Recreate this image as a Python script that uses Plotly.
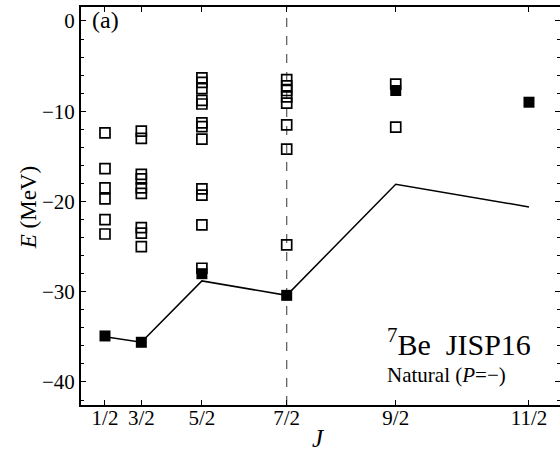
import plotly.graph_objects as go

# J values (numeric) and tick labels
J_vals = [0.5, 1.5, 2.5, 3.5, 4.5, 5.5]
J_labels = ["1/2", "3/2", "5/2", "7/2", "9/2", "11/2"]

# Open squares: excited states per J (MeV)
open_J12 = [-12.4, -16.35, -18.5, -19.7, -22.0, -23.6]
open_J32 = [-12.2, -13.0, -17.0, -17.5, -18.5, -19.1, -22.9, -23.5, -25.0]
open_J52 = [-6.3, -6.8, -7.5, -8.8, -9.2, -11.3, -11.7, -13.1, -18.6, -19.3, -22.6, -27.4]
open_J72 = [-6.5, -7.2, -7.7, -8.4, -9.1, -11.5, -14.2, -24.8]
open_J92 = [-7.0, -11.75]
open_J112 = []

# Filled squares (lowest states) per J
filled_E = [-34.9, -35.6, -28.0, -30.4, -7.7, -9.0]

# Solid line values per J
line_E = [-35.0, -35.6, -28.8, -30.4, -18.1, -20.6]

open_sets = [open_J12, open_J32, open_J52, open_J72, open_J92, open_J112]

def jx(j):
    return j * (j + 1)

xpos = [jx(j) for j in J_vals]

open_x, open_y = [], []
for j, vals in zip(J_vals, open_sets):
    for v in vals:
        open_x.append(jx(j))
        open_y.append(v)

FONT = "Liberation Serif"

fig = go.Figure()

fig.add_shape(type="line", x0=jx(3.5), x1=jx(3.5), y0=0, y1=1, xref="x", yref="paper",
              line=dict(color="#555555", width=1.2, dash="dash"), layer="below")

fig.add_trace(go.Scatter(x=xpos, y=line_E, mode="lines",
                         line=dict(color="black", width=1.5), showlegend=False,
                         cliponaxis=False))
fig.add_trace(go.Scatter(x=open_x, y=open_y, mode="markers",
                         marker=dict(symbol="square-open", size=10, color="black",
                                     line=dict(width=1.7, color="black")),
                         showlegend=False))
fig.add_trace(go.Scatter(x=xpos, y=filled_E, mode="markers",
                         marker=dict(symbol="square", size=11, color="black"),
                         showlegend=False))

fig.add_annotation(text="(a)", x=0.018, y=1.006, xref="paper", yref="paper",
                   xanchor="left", yanchor="top", showarrow=False,
                   font=dict(family=FONT, size=24, color="black"))
fig.add_annotation(text="<sup>7</sup>Be\u00a0\u00a0JISP16", x=0.635, y=0.158, xref="paper", yref="paper",
                   xanchor="left", yanchor="middle", showarrow=False,
                   font=dict(family=FONT, size=30, color="black"))
fig.add_annotation(text="Natural (<i>P</i>=\u2212)", x=0.635, y=0.075, xref="paper", yref="paper",
                   xanchor="left", yanchor="middle", showarrow=False,
                   font=dict(family=FONT, size=21, color="black"))
# axis titles
fig.add_annotation(text="<i>J</i>", x=0.495, y=-0.083, xref="paper", yref="paper",
                   xanchor="center", yanchor="middle", showarrow=False,
                   font=dict(family=FONT, size=25, color="black"))
fig.add_annotation(text="<i>E</i> (MeV)", x=-0.108, y=0.495, xref="paper", yref="paper",
                   xanchor="center", yanchor="middle", showarrow=False, textangle=-90,
                   font=dict(family=FONT, size=23, color="black"))

fig.update_layout(
    width=560, height=451,
    margin=dict(l=81, r=0, t=7, b=46),
    paper_bgcolor="white", plot_bgcolor="white",
    font=dict(family=FONT, size=21, color="black"),
    xaxis=dict(range=[-1.23, 38.31], tickmode="array", tickvals=xpos, ticktext=J_labels,
               ticks="inside", ticklen=5, tickwidth=1, tickcolor="black",
               tickfont=dict(family=FONT, size=21, color="black"),
               ticklabelstandoff=-7, automargin=False,
               showline=True, linecolor="black", linewidth=2, mirror="ticks",
               showgrid=False, zeroline=False),
    yaxis=dict(range=[-42.55, 1.55], tickmode="array", tickvals=[-40, -30, -20, -10, 0],
               ticks="inside", ticklen=5, tickwidth=1, tickcolor="black",
               tickfont=dict(family=FONT, size=21, color="black"),
               minor=dict(dtick=2, ticks="inside", ticklen=3, tickcolor="black", tickwidth=1),
               automargin=False,
               showline=True, linecolor="black", linewidth=2, mirror="ticks",
               showgrid=False, zeroline=False),
)

fig.write_html("out.html", config={"displayModeBar": False},
               post_script="document.body.style.margin='0';")
